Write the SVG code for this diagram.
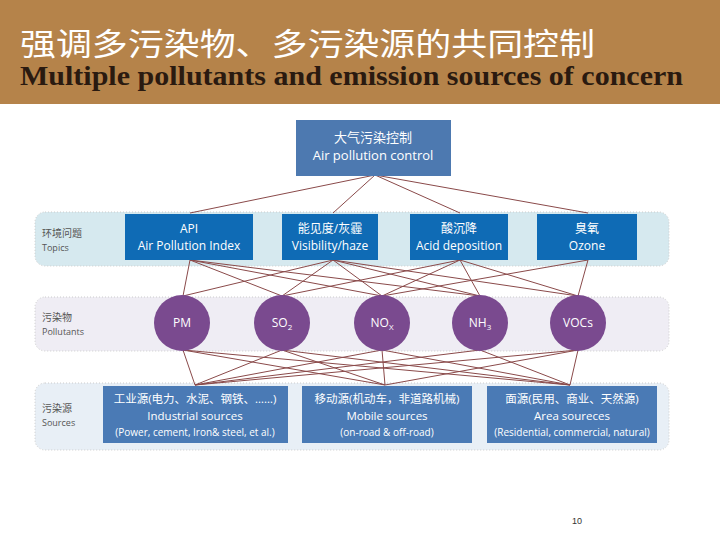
<svg xmlns="http://www.w3.org/2000/svg" width="720" height="540" viewBox="0 0 720 540">
<style>
.t{font-family:"Open Sans","Noto Sans CJK SC",sans-serif;fill:#fff;text-anchor:middle}
.lab{font-family:"Open Sans","Noto Sans CJK SC",sans-serif;fill:#555;font-size:10px}
.ln{stroke:#8a4a4a;stroke-width:1;fill:none}
.band{stroke:#ccc;stroke-dasharray:1 2}
.box{fill:#0f6bb5}
.src{fill:#4a7ab5}
.c{fill:#7a4a8f}
</style>
<rect width="720" height="540" fill="#fff"/>
<rect width="720" height="104" fill="#b5834a"/>
<text x="20" y="55" font-family="'Noto Sans CJK SC',sans-serif" font-size="31" fill="#fff" textLength="575" lengthAdjust="spacingAndGlyphs">强调多污染物、多污染源的共同控制</text>
<text x="20" y="85" font-family="'Liberation Serif',serif" font-weight="bold" font-size="27" fill="#2a1a10" textLength="663" lengthAdjust="spacingAndGlyphs">Multiple pollutants and emission sources of concern</text>
<rect class="band" x="35" y="212" width="634" height="54" rx="10" fill="#d6e9ef"/>
<rect class="band" x="35" y="297" width="634" height="54" rx="10" fill="#efedf4"/>
<rect class="band" x="35" y="383" width="634" height="67" rx="10" fill="#e8eff6"/>
<g class="lab"><text x="42" y="237">环境问题</text><text x="42" y="251" font-size="9">Topics</text>
<text x="42" y="321">污染物</text><text x="42" y="335" font-size="9">Pollutants</text>
<text x="42" y="412">污染源</text><text x="42" y="426" font-size="9">Sources</text></g>
<g id="connectors" class="ln">
<path d="M375 175L190 213M375 175L333 213M375 175L460 213M375 175L588 213"/>
<path d="M190 260L183 296M190 260L282 296M190 260L382 296M190 260L480 296"/>
<path d="M333 260L183 296M333 260L282 296M333 260L382 296M333 260L480 296M333 260L578 296"/>
<path d="M460 260L282 296M460 260L382 296M460 260L480 296M460 260L578 296"/>
<path d="M588 260L382 296M588 260L578 296"/>
<path d="M183 350L195 385M183 350L385 385M183 350L570 385M282 350L195 385M282 350L385 385M282 350L570 385M382 350L195 385M382 350L385 385M382 350L570 385M480 350L195 385M480 350L570 385M578 350L195 385M578 350L385 385M578 350L570 385"/>
</g>
<g id="top"><rect x="296" y="120" width="155" height="56" fill="#4d79b0"/>
<text class="t" x="373" y="142" font-size="13">大气污染控制</text><text class="t" x="373" y="160" font-size="13">Air pollution control</text></g>
<g id="api"><rect class="box" x="125" y="214" width="128" height="46"/><text class="t" x="189" y="233" font-size="12">API</text><text class="t" x="189" y="250" font-size="12">Air Pollution Index</text></g>
<g id="vis"><rect class="box" x="282" y="214" width="96" height="46"/><text class="t" x="330" y="233" font-size="12">能见度/灰霾</text><text class="t" x="330" y="250" font-size="12">Visibility/haze</text></g>
<g id="acid"><rect class="box" x="410" y="214" width="98" height="46"/><text class="t" x="459" y="233" font-size="12">酸沉降</text><text class="t" x="459" y="250" font-size="12">Acid deposition</text></g>
<g id="ozone"><rect class="box" x="537" y="214" width="100" height="46"/><text class="t" x="587" y="233" font-size="12">臭氧</text><text class="t" x="587" y="250" font-size="12">Ozone</text></g>
<g id="pm"><circle class="c" cx="182" cy="323" r="28"/><text class="t" x="182" y="327" font-size="12">PM</text></g>
<g id="so2"><circle class="c" cx="282" cy="323" r="28"/><text class="t" x="282" y="327" font-size="12">SO<tspan font-size="8" dy="3">2</tspan></text></g>
<g id="nox"><circle class="c" cx="382" cy="323" r="28"/><text class="t" x="382" y="327" font-size="12">NO<tspan font-size="8" dy="3">X</tspan></text></g>
<g id="nh3"><circle class="c" cx="480" cy="323" r="28"/><text class="t" x="480" y="327" font-size="12">NH<tspan font-size="8" dy="3">3</tspan></text></g>
<g id="vocs"><circle class="c" cx="578" cy="323" r="28"/><text class="t" x="578" y="327" font-size="12">VOCs</text></g>
<g id="ind"><rect class="src" x="103" y="386" width="185" height="57"/><text class="t" x="195" y="403" font-size="11.5">工业源(电力、水泥、钢铁、……)</text><text class="t" x="195" y="420" font-size="11.5">Industrial sources</text><text class="t" x="195" y="436" font-size="10">(Power, cement, Iron&amp; steel, et al.)</text></g>
<g id="mob"><rect class="src" x="302" y="386" width="170" height="57"/><text class="t" x="387" y="403" font-size="11.5">移动源(机动车，非道路机械)</text><text class="t" x="387" y="420" font-size="11.5">Mobile sources</text><text class="t" x="387" y="436" font-size="10">(on-road &amp; off-road)</text></g>
<g id="area"><rect class="src" x="487" y="386" width="170" height="57"/><text class="t" x="572" y="403" font-size="11.5">面源(民用、商业、天然源)</text><text class="t" x="572" y="420" font-size="11.5">Area soureces</text><text class="t" x="572" y="436" font-size="10">(Residential, commercial, natural)</text></g>
<text x="577" y="524" font-family="'Liberation Sans',sans-serif" font-size="9" fill="#333" text-anchor="middle">10</text>
</svg>
